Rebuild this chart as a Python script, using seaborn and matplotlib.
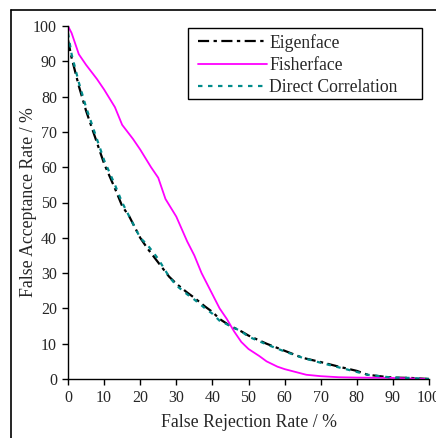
import pandas as pd
import matplotlib
matplotlib.use('Agg')
import matplotlib.pyplot as plt
from matplotlib.lines import Line2D
from matplotlib.patches import Rectangle
import seaborn as sns

# Eigenface curve (FRR %, FAR %)
eigen_frr = [0, 1, 2, 3, 5, 7, 10, 13, 15, 17, 20, 22, 25, 28, 30, 33, 35, 38, 40, 42, 45,
             48, 50, 55, 60, 65, 70, 75, 80, 83, 88, 90, 95, 100]
eigen_far = [96, 91, 87, 83, 76, 70, 61, 54, 49, 46, 40, 37, 33, 29, 27, 24.5, 23, 20.5, 19, 17, 15,
             13.5, 12.3, 10, 8, 6, 4.8, 3.5, 2.3, 1.2, 0.6, 0.4, 0.3, 0]

# Fisherface curve
fisher_frr = [0, 1, 2, 3, 5, 8, 10, 13, 15, 18, 20, 23, 25, 27, 30, 33, 35, 37, 40, 42, 44,
              46, 48, 50, 53, 55, 58, 60, 63, 66, 70, 75, 80, 90, 100]
fisher_far = [100, 98, 95, 92, 89, 85, 82, 77, 72, 68, 65, 60, 57, 51, 46, 39, 35, 30, 24, 20, 17,
              13.5, 10.5, 8.5, 6.5, 5, 3.5, 2.8, 2, 1.2, 0.8, 0.5, 0.4, 0.3, 0]

# Direct correlation curve
direct_frr = [0, 1, 2, 3, 5, 7, 10, 13, 15, 17, 20, 22, 25, 28, 30, 33, 35, 38, 40, 42, 45,
              48, 50, 55, 60, 65, 70, 75, 80, 83, 88, 90, 95, 100]
direct_far = [98, 92, 88, 84, 77, 71, 62, 55, 50, 46, 40, 38, 34, 29, 26.5, 24, 22.5, 20, 18.5, 16.5, 15,
              13.5, 12, 9.8, 7.8, 6, 4.6, 3.3, 2, 1.2, 0.6, 0.4, 0.3, 0]

sns.set_style('white')
plt.rcParams['font.family'] = ['Liberation Serif', 'DejaVu Serif']

fig = plt.figure(figsize=(4.36, 4.38), dpi=100)
ax = fig.add_axes([68 / 436, 1 - 379 / 438, (429 - 68) / 436, (379 - 26) / 438])

# outer frame (top and left edges visible)
fig.add_artist(Line2D([11 / 436, 11 / 436], [0, 1 - 10 / 438], transform=fig.transFigure,
                      color='black', lw=1.2))
fig.add_artist(Line2D([11 / 436, 1], [1 - 10 / 438, 1 - 10 / 438], transform=fig.transFigure,
                      color='black', lw=1.2))

sns.lineplot(x=eigen_frr, y=eigen_far, ax=ax, color='black', lw=1.6, label='Eigenface')
sns.lineplot(x=fisher_frr, y=fisher_far, ax=ax, color='#ff00ff', lw=1.3, label='Fisherface')
sns.lineplot(x=direct_frr, y=direct_far, ax=ax, color='#008b8b', lw=1.6, label='Direct Correlation')
ax.lines[0].set_dashes((5, 2, 1.5, 2))
ax.lines[2].set_dashes((2, 2.5))

ax.set_xlim(0, 100)
ax.set_ylim(0, 100)
ax.set_xticks(range(0, 101, 10))
ax.set_yticks(range(0, 101, 10))
for s in ['top', 'right']:
    ax.spines[s].set_visible(False)
for s in ['left', 'bottom']:
    ax.spines[s].set_color('black')
    ax.spines[s].set_linewidth(1.0)
ax.tick_params(axis='both', direction='out', length=4, width=1, color='black',
               labelsize=11.5, pad=4, left=True, bottom=True)
ax.set_xlabel('False Rejection Rate / %', fontsize=12.8, labelpad=6)
ax.set_ylabel('False Acceptance Rate / %', fontsize=12.8)
ax.yaxis.set_label_coords(-0.086, 0.5)

# legend box drawn separately so it can be wider than the entries
ax.add_patch(Rectangle((0.332, 0.793), 0.649, 0.201, transform=ax.transAxes,
                       fill=True, facecolor='white', edgecolor='black', lw=1.0, zorder=4))
leg = ax.legend(loc='upper left', bbox_to_anchor=(0.36, 0.978), borderaxespad=0,
                fontsize=12.7, frameon=False, handlelength=3.9, handletextpad=0.15,
                labelspacing=0.3, borderpad=0)
leg.set_zorder(5)

fig.savefig('out.png', dpi=100)
